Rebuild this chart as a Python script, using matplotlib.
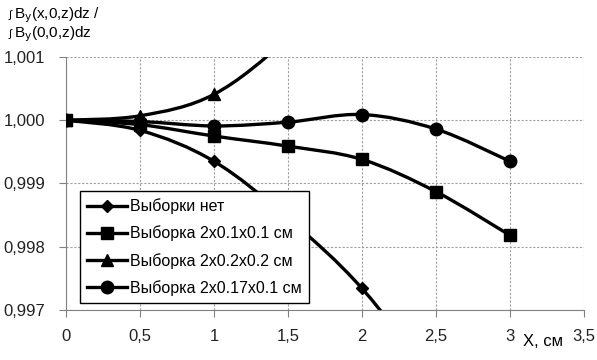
import matplotlib
matplotlib.use('Agg')
import matplotlib.pyplot as plt
from matplotlib.path import Path
from matplotlib.patches import PathPatch
from matplotlib.lines import Line2D

plt.rcParams['font.family'] = ['Liberation Sans', 'DejaVu Sans']

x = [0, 0.5, 1, 1.5, 2, 2.5, 3]
no_sample = [1.0, 0.99984, 0.99935, 0.99845, 0.99734, 0.9958, 0.9940]
sample_01 = [1.0, 0.99993, 0.99975, 0.99959, 0.99938, 0.99887, 0.99818]
sample_02 = [1.0, 1.00007, 1.00041, 1.0013, 1.0025, 1.0040, 1.0060]
sample_017 = [1.0, 0.99998, 0.99991, 0.99997, 1.00009, 0.99986, 0.99935]
labels = ['Выборки нет', 'Выборка 2x0.1x0.1 см', 'Выборка 2x0.2x0.2 см', 'Выборка 2x0.17x0.1 см']
markers = ['D', 's', '^', 'o']
msizes = [6, 9, 9, 9]
xticks = [0, 0.5, 1, 1.5, 2, 2.5, 3, 3.5]
yticks = [0.997, 0.998, 0.999, 1.000, 1.001]


def smooth_path(xs, ys):
    # excel-like smoothed line: bezier segments through the points
    pts = list(zip(xs, ys))
    verts = [pts[0]]
    codes = [Path.MOVETO]
    n = len(pts)
    for i in range(n - 1):
        p0 = pts[max(i - 1, 0)]
        p1 = pts[i]
        p2 = pts[i + 1]
        p3 = pts[min(i + 2, n - 1)]
        c1 = (p1[0] + (p2[0] - p0[0]) / 6, p1[1] + (p2[1] - p0[1]) / 6)
        c2 = (p2[0] - (p3[0] - p1[0]) / 6, p2[1] - (p3[1] - p1[1]) / 6)
        verts += [c1, c2, p2]
        codes += [Path.CURVE4] * 3
    return Path(verts, codes)


fig = plt.figure(figsize=(5.97, 3.6), dpi=100)
ax = fig.add_axes([0.1106, 0.1389, 0.8677, 0.7028])

handles = []
for ys, lab, m, ms in zip([no_sample, sample_01, sample_02, sample_017], labels, markers, msizes):
    patch = PathPatch(smooth_path(x, ys), facecolor='none', edgecolor='black', lw=2.4, zorder=3)
    ax.add_patch(patch)
    ax.plot(x, ys, linestyle='none', marker=m, markersize=ms, color='black', zorder=4)
    handles.append(Line2D([], [], color='black', lw=2.4, marker=m, markersize=ms, label=lab))

ax.set_xlim(0, 3.5)
ax.set_ylim(0.997, 1.001)
ax.set_xticks(xticks)
ax.set_yticks(yticks)
ax.set_xticklabels([('%g' % t).replace('.', ',') for t in xticks])
ax.set_yticklabels([('%.3f' % t).replace('.', ',') for t in yticks])
ax.tick_params(labelsize=12, length=5, color='#808080', direction='out', labelcolor='#222222')
ax.tick_params(axis='x', pad=9)
ax.tick_params(axis='y', pad=10)

ax.grid(True, linestyle=(0, (2, 1.5)), color='#a0a0a0', lw=0.8)
ax.spines['top'].set_visible(False)
ax.spines['right'].set_visible(False)
ax.spines['left'].set_color('#808080')
ax.spines['bottom'].set_color('#808080')

# y axis caption, two lines with a small integral sign
fig.text(0.014, 0.958, '∫', fontsize=8, ha='left', va='center')
fig.text(0.024, 0.958, r'B$_\mathrm{y}$(x,0,z)dz /', fontsize=11, ha='left', va='center')
fig.text(0.014, 0.905, '∫', fontsize=8, ha='left', va='center')
fig.text(0.024, 0.905, r'B$_\mathrm{y}$(0,0,z)dz', fontsize=11, ha='left', va='center')
fig.text(0.943, 0.05, 'X, см', fontsize=12, ha='right', va='center')

leg = ax.legend(handles=handles, loc='upper left', bbox_to_anchor=(0.027, 0.47), borderaxespad=0,
                fontsize=11.5, frameon=True, fancybox=False, edgecolor='black', framealpha=1,
                handlelength=2.5, handletextpad=0.2, borderpad=0.45, labelspacing=0.72)
leg.get_frame().set_linewidth(1.0)
leg.set_zorder(6)

fig.savefig('out.png', dpi=100)
